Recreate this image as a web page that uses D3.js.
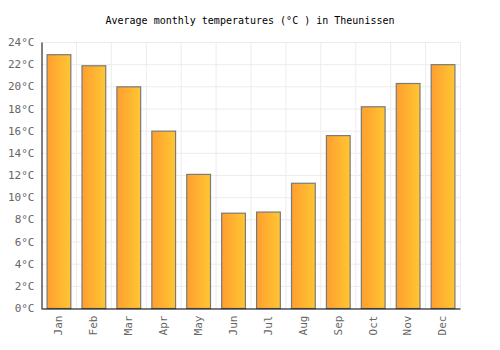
<!DOCTYPE html>
<html><head><meta charset="utf-8">
<script src="https://cdn.jsdelivr.net/npm/d3@7"></script>
<style>body{margin:0;background:#fff}</style>
</head><body><svg id="c" width="500" height="350"></svg>
<script>
const months = ["Jan","Feb","Mar","Apr","May","Jun","Jul","Aug","Sep","Oct","Nov","Dec"];
const temps = [22.9,21.9,20.0,16.0,12.1,8.6,8.7,11.3,15.6,18.2,20.3,22.0];
const yTicks = [0,2,4,6,8,10,12,14,16,18,20,22,24];
const title = "Average monthly temperatures (°C ) in Theunissen";

const svg = d3.select("#c");
const m = {l:41, r:460, t:42, b:308};
const x = d3.scaleBand().domain(months).range([m.l, m.r]).paddingInner(0.32).paddingOuter(0.16);
const xg = d3.scaleBand().domain(months).range([m.l, m.r]);
const y = d3.scaleLinear().domain([0,24]).range([m.b, m.t]);
const font = "'DejaVu Sans Mono', monospace";

const defs = svg.append("defs");
const g = defs.append("linearGradient").attr("id","bg").attr("x1","0").attr("x2","1").attr("y1","0").attr("y2","0");
g.append("stop").attr("offset","0").attr("stop-color","#ff9f2f");
g.append("stop").attr("offset","1").attr("stop-color","#ffc633");

// grid
svg.append("g").selectAll("line.h").data(yTicks).join("line")
  .attr("x1", m.l).attr("x2", m.r).attr("y1", d=>y(d)+0.5).attr("y2", d=>y(d)+0.5)
  .attr("stroke","#ececec").attr("stroke-width",1);
svg.append("g").selectAll("line.v").data(months).join("line")
  .attr("x1", d=>xg(d)+xg.bandwidth()+0.5).attr("x2", d=>xg(d)+xg.bandwidth()+0.5)
  .attr("y1", m.t).attr("y2", m.b)
  .attr("stroke","#ececec").attr("stroke-width",1);

// bars
svg.append("g").selectAll("rect").data(temps).join("rect")
  .attr("x", (d,i)=>x(months[i])+0.5)
  .attr("y", d=>y(d)+0.5)
  .attr("width", x.bandwidth())
  .attr("height", d=>m.b - y(d))
  .attr("fill","url(#bg)")
  .attr("stroke","#7a7a7a").attr("stroke-width",1.2);

// axes
const ya = d3.axisLeft(y).tickValues(yTicks).tickSize(0).tickPadding(7).tickFormat(d=>d+"°C");
const yG = svg.append("g").attr("transform",`translate(${m.l+0.5},0)`).call(ya);
yG.select(".domain").attr("stroke","#000");
yG.selectAll("text").attr("fill","#666").style("font-family",font).style("font-size","11px");

const xa = d3.axisBottom(xg).tickSize(0).tickPadding(8);
const xG = svg.append("g").attr("transform",`translate(0,${m.b+0.5})`).call(xa);
xG.select(".domain").attr("stroke","#000");
xG.selectAll("text").attr("fill","#666").style("font-family",font).style("font-size","11px")
  .attr("transform","rotate(-90)").attr("text-anchor","end").attr("dy","0.35em").attr("x",-7).attr("y",0);

svg.append("text").attr("x",250).attr("y",24).attr("text-anchor","middle")
  .style("font-family",font).style("font-size","10px").attr("fill","#000").text(title);
</script></body></html>
